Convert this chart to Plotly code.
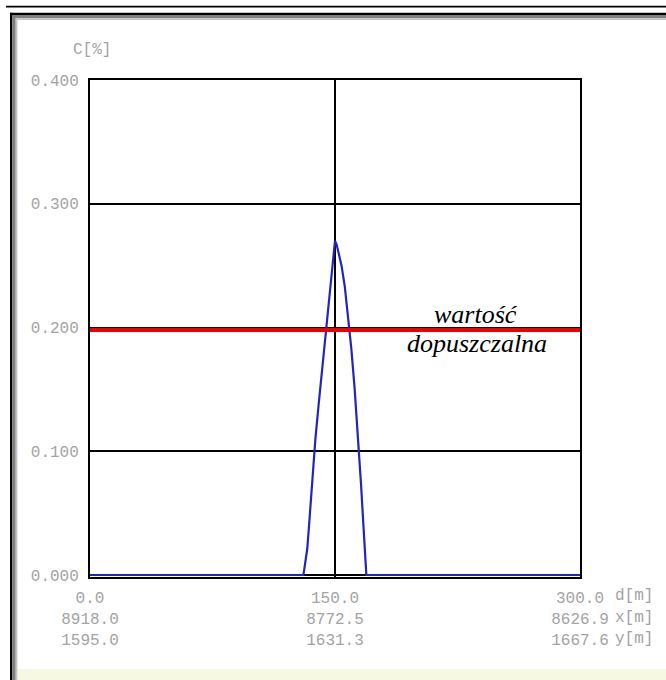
import plotly.graph_objects as go

# ---- data ----
d_m = [0, 130.6, 131, 132, 133, 134, 135, 136, 137, 138, 140, 142, 144, 146,
       148, 149, 150, 151, 152, 154, 156, 158, 160, 162, 164, 166, 167, 168,
       168.6, 169.2, 170, 300]
c_pct = [0, 0, 0.003, 0.011, 0.021, 0.038, 0.056, 0.075, 0.093, 0.110, 0.138,
         0.165, 0.193, 0.219, 0.244, 0.257, 0.270, 0.267, 0.262, 0.250, 0.233,
         0.210, 0.183, 0.151, 0.114, 0.072, 0.049, 0.025, 0.011, 0.0, 0, 0]
limit_value = 0.198
limit_label = ["wartość", "dopuszczalna"]

y_ticks = [0.0, 0.1, 0.2, 0.3, 0.4]
y_ticktext = ["0.000", "0.100", "0.200", "0.300", "0.400"]
x_ticks = [0, 150, 300]
d_labels = ["0.0", "150.0", "300.0"]
x_labels = ["8918.0", "8772.5", "8626.9"]
yy_labels = ["1595.0", "1631.3", "1667.6"]
row_units = ["d[m]", "x[m]", "y[m]"]
y_title = "C[%]"

# ---- layout geometry (pixels) ----
W, H = 666, 680
L, R, T, B = 90, 580, 80, 577
def px(xp):
    return (xp - L) / (R - L)
def py(yp):
    return (B - yp) / (B - T)

GRAY = "#a3a3a3"
MONO = "Liberation Mono, DejaVu Sans Mono, monospace"

fig = go.Figure()
fig.add_trace(go.Scatter(x=d_m, y=c_pct, mode="lines",
                         line=dict(color="#2424b8", width=2.2),
                         hoverinfo="skip", showlegend=False))

shapes = []
def rect(x0, y0, x1, y1, color):
    shapes.append(dict(type="rect", xref="paper", yref="paper",
                       x0=px(x0), x1=px(x1), y0=py(y1), y1=py(y0),
                       fillcolor=color, line=dict(width=0), layer="below"))

# window frame
rect(6, 5.8, 666, 7.6, "black")
rect(18, 669, 666, 680, "#f6f8e2")
rect(10, 12.7, 666, 15, "black")
rect(10, 12.7, 12.4, 680, "black")
rect(12.4, 15, 666, 18.3, "#7f7f7f")
rect(12.4, 15, 15.7, 680, "#7f7f7f")
rect(15.7, 18.3, 666, 20, "#c4c4c4")
rect(15.7, 18.3, 17.4, 680, "#c4c4c4")

# permissible value line
shapes.append(dict(type="line", xref="x", yref="y", x0=0, x1=300,
                   y0=limit_value, y1=limit_value,
                   line=dict(color="#ee0000", width=4), layer="above"))

annotations = []
annotations.append(dict(text=y_title, xref="paper", yref="paper",
                        x=px(92), y=py(50), showarrow=False,
                        xanchor="center", yanchor="middle",
                        font=dict(family=MONO, size=16, color=GRAY)))
for i, u in enumerate(row_units):
    annotations.append(dict(text=u, xref="paper", yref="paper",
                            x=px(613), y=py(596 + 21.5 * i), showarrow=False,
                            xanchor="left", yanchor="middle",
                            font=dict(family=MONO, size=16, color=GRAY)))
annotations.append(dict(text="<i>" + limit_label[0] + "</i>", xref="paper", yref="paper",
                        x=px(476), y=py(314), showarrow=False,
                        xanchor="center", yanchor="middle",
                        font=dict(family="Liberation Serif, serif", size=26, color="black")))
annotations.append(dict(text="<i>" + limit_label[1] + "</i>", xref="paper", yref="paper",
                        x=px(477), y=py(344), showarrow=False,
                        xanchor="center", yanchor="middle",
                        font=dict(family="Liberation Serif, serif", size=26, color="black")))

x_ticktext = [f"{a}<br>{b}<br>{c}" for a, b, c in zip(d_labels, x_labels, yy_labels)]

fig.update_layout(
    width=W, height=H,
    margin=dict(l=L, r=W - R, t=T, b=H - B, pad=0),
    paper_bgcolor="white", plot_bgcolor="white",
    shapes=shapes, annotations=annotations, showlegend=False,
    xaxis=dict(range=[0, 300], tickvals=x_ticks, ticktext=x_ticktext,
               showgrid=True, gridcolor="black", gridwidth=1.6,
               showline=True, linecolor="black", linewidth=2, mirror=True,
               zeroline=False, ticks="", ticklabelstandoff=5,
               tickfont=dict(family=MONO, size=16, color=GRAY),
               layer="below traces", fixedrange=True),
    yaxis=dict(range=[-0.0016, 0.4], tickvals=y_ticks, ticktext=y_ticktext,
               showgrid=True, gridcolor="black", gridwidth=1.6,
               showline=True, linecolor="black", linewidth=2, mirror=True,
               zeroline=False, ticks="", ticklabelstandoff=6,
               tickfont=dict(family=MONO, size=16, color=GRAY),
               layer="below traces", fixedrange=True),
)

fig.write_html("out.html", config={"displayModeBar": False},
               post_script="document.body.style.margin='0';document.body.style.overflow='hidden';")
